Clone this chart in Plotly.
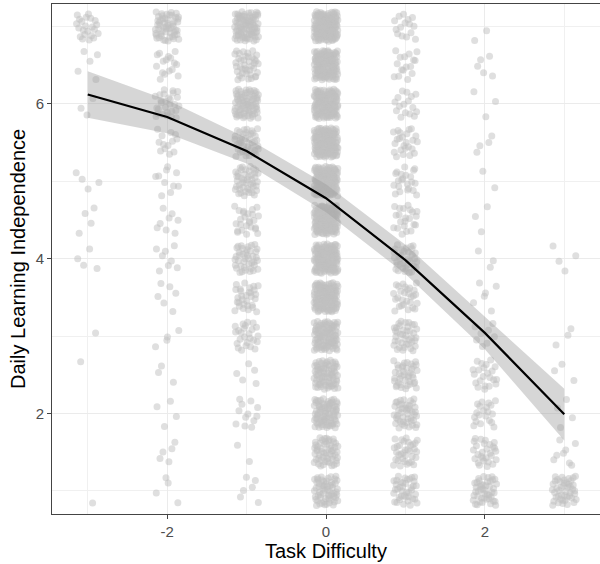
import plotly.graph_objects as go

# ---- data ----
difficulty_levels = [-3, -2, -1, 0, 1, 2, 3]
independence_levels = [7, 6.5, 6, 5.5, 5, 4.5, 4, 3.5, 3, 2.5, 2, 1.5, 1]

x_tick_vals = [-2, 0, 2]
x_tick_text = ["-2", "0", "2"]
y_tick_vals = [2, 4, 6]
y_tick_text = ["2", "4", "6"]

# number of respondents per (difficulty, independence level), top to bottom
counts_m3 = [22, 5, 3, 0, 4, 4, 4, 0, 1, 1, 0, 0, 1]
counts_m2 = [55, 16, 28, 13, 10, 8, 8, 6, 4, 3, 4, 5, 4]
counts_m1 = [85, 40, 75, 40, 45, 25, 40, 30, 25, 5, 12, 2, 6]
counts_0 = [130, 125, 125, 125, 125, 125, 125, 115, 95, 75, 80, 55, 60]
counts_p1 = [15, 16, 16, 24, 22, 22, 34, 28, 40, 40, 45, 34, 40]
counts_p2 = [2, 5, 3, 4, 2, 3, 3, 6, 8, 22, 20, 28, 45]
counts_p3 = [0, 0, 0, 0, 0, 0, 4, 0, 3, 3, 4, 8, 45]
counts_by_column = [counts_m3, counts_m2, counts_m1, counts_0, counts_p1, counts_p2, counts_p3]

# smoothed fit and confidence band
fit_x = [-3, -2, -1, 0, 1, 2, 3]
fit_y = [6.12, 5.83, 5.39, 4.78, 3.98, 3.04, 1.99]
fit_upper = [6.42, 6.05, 5.56, 4.96, 4.18, 3.25, 2.32]
fit_lower = [5.82, 5.62, 5.23, 4.60, 3.80, 2.83, 1.65]

JITTER_W = 0.15
JITTER_H = 0.19


def halton(i, b):
    f, r = 1.0, 0.0
    while i > 0:
        f /= b
        r += f * (i % b)
        i //= b
    return r


px, py = [], []
k = 1
for xc, col in zip(difficulty_levels, counts_by_column):
    for yc, n in zip(independence_levels, col):
        for j in range(n):
            u = halton(k, 2)
            v = halton(k, 3)
            k += 1
            px.append(xc + (2 * u - 1) * JITTER_W)
            py.append(yc + (2 * v - 1) * JITTER_H)

fig = go.Figure()
fig.add_trace(go.Scatter(
    x=px, y=py, mode="markers",
    marker=dict(size=7, color="rgba(192,192,192,0.5)", line=dict(width=0)),
    hoverinfo="skip", showlegend=False))
fig.add_trace(go.Scatter(
    x=fit_x + fit_x[::-1], y=fit_upper + fit_lower[::-1],
    fill="toself", fillcolor="rgba(153,153,153,0.4)", line=dict(width=0),
    mode="lines", hoverinfo="skip", showlegend=False))
fig.add_trace(go.Scatter(
    x=fit_x, y=fit_y, mode="lines", line=dict(color="black", width=2.2),
    showlegend=False))

font_fam = "Liberation Sans, Arial, sans-serif"
axis_common = dict(
    showgrid=True, gridcolor="#ebebeb", gridwidth=1,
    zeroline=False, showline=True, linecolor="#444444", linewidth=1,
    ticks="outside", ticklen=4, tickcolor="#444444", tickwidth=1,
    tickfont=dict(family=font_fam, size=15, color="#4d4d4d"),
    minor=dict(showgrid=True, gridcolor="#f0f0f0", gridwidth=0.6,
               tickmode="linear", tick0=0, dtick=1, ticks=""),
    automargin=False,
)

L, R, T, B = 52, 0, 4, 50
W, H = 600, 564
pw, ph = W - L - R, H - T - B

fig.update_layout(
    width=W, height=H,
    margin=dict(l=L, r=R, t=T, b=B),
    paper_bgcolor="white", plot_bgcolor="white",
    font=dict(family=font_fam, color="black"),
    xaxis=dict(axis_common, range=[-3.45, 3.45], tickmode="array",
               tickvals=x_tick_vals, ticktext=x_tick_text, mirror=True),
    yaxis=dict(axis_common, range=[0.70, 7.29], tickmode="array",
               tickvals=y_tick_vals, ticktext=y_tick_text),
    annotations=[
        dict(text="Task Difficulty", xref="paper", yref="paper",
             x=(326 - L) / pw, y=-(551 - (H - B)) / ph,
             xanchor="center", yanchor="middle", showarrow=False,
             font=dict(size=20, color="black")),
        dict(text="Daily Learning Independence", textangle=-90, xref="paper", yref="paper",
             x=-(L - 18) / pw, y=((H - B) - 259) / ph,
             xanchor="center", yanchor="middle", showarrow=False,
             font=dict(size=20, color="black")),
    ],
)

fig.write_html(
    "out.html",
    config={"displayModeBar": False},
    post_script="document.body.style.margin='0';document.body.style.overflow='hidden';",
)
